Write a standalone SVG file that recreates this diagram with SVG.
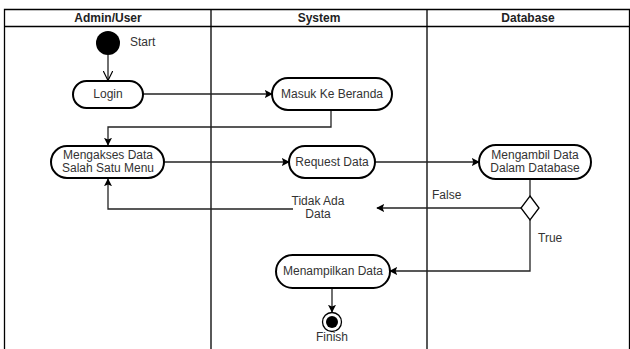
<svg xmlns="http://www.w3.org/2000/svg" width="630" height="349" viewBox="0 0 630 349">
  <defs>
    <style>
      .lane { fill: none; stroke: #000; stroke-width: 1.3; }
      .head { font-family: "Liberation Sans", Arial, sans-serif; font-size: 12px; font-weight: bold; fill: #222; text-anchor: middle; }
      .act { fill: #fff; stroke: #000; stroke-width: 2; }
      .lbl { font-family: "Liberation Sans", Arial, sans-serif; font-size: 12px; fill: #333; text-anchor: middle; }
      .note { font-family: "Liberation Sans", Arial, sans-serif; font-size: 12px; fill: #333; }
      .edge { fill: none; stroke: #222; stroke-width: 1.3; }
    </style>
    <marker id="arrow" viewBox="0 0 10 10" refX="9" refY="5" markerWidth="8" markerHeight="8" markerUnits="userSpaceOnUse" orient="auto">
      <path d="M0,0 L10,5 L0,10 L2,5 Z" fill="#000"/>
    </marker>
    <marker id="open" viewBox="0 0 10 10" refX="9.5" refY="5" markerWidth="10" markerHeight="10" markerUnits="userSpaceOnUse" orient="auto">
      <path d="M0,0 L10,5 L0,10" fill="none" stroke="#000" stroke-width="1.2"/>
    </marker>
  </defs>
  <rect width="630" height="349" fill="#fff"/>

  <!-- swimlanes -->
  <g id="lanes">
    <path class="lane" d="M4.5,349 V9.5 H629.5 V349 M4.5,26.5 H629.5 M211,9.5 V349 M427,9.5 V349"/>
    <text class="head" x="108" y="22">Admin/User</text>
    <text class="head" x="319" y="22">System</text>
    <text class="head" x="528" y="22">Database</text>
  </g>

  <!-- connectors -->
  <g id="connectors">
    <path class="edge" d="M108,55 V80" marker-end="url(#open)"/>
    <path class="edge" d="M143,94 H272" marker-end="url(#arrow)"/>
    <path class="edge" d="M331,110 V127 H108 V145" marker-end="url(#arrow)"/>
    <path class="edge" d="M164,162 H289" marker-end="url(#arrow)"/>
    <path class="edge" d="M375,162 H479" marker-end="url(#arrow)"/>
    <path class="edge" d="M530,179 V196"/>
    <path class="edge" d="M521,208 H377" marker-end="url(#arrow)"/>
    <path class="edge" d="M293,209 H108 V179" marker-end="url(#arrow)"/>
    <path class="edge" d="M530,220 V271 H390" marker-end="url(#arrow)"/>
    <path class="edge" d="M332,289 V312" marker-end="url(#arrow)"/>
    <text class="note" x="432" y="199">False</text>
    <text class="note" x="538" y="242">True</text>
    <text class="lbl" x="318" y="205">Tidak Ada</text>
    <text class="lbl" x="318" y="218">Data</text>
  </g>

  <!-- start -->
  <g id="start">
    <circle cx="108" cy="43" r="12" fill="#000"/>
    <text class="note" x="130" y="46">Start</text>
  </g>

  <g id="login">
    <rect class="act" x="73" y="81" width="70" height="27" rx="13.5"/>
    <text class="lbl" x="108" y="98">Login</text>
  </g>

  <g id="masuk-beranda">
    <rect class="act" x="272" y="78" width="120" height="32" rx="16"/>
    <text class="lbl" x="332" y="98">Masuk Ke Beranda</text>
  </g>

  <g id="mengakses-data">
    <rect class="act" x="51" y="146" width="113" height="32" rx="16"/>
    <text class="lbl" x="108" y="159">Mengakses Data</text>
    <text class="lbl" x="108" y="172">Salah Satu Menu</text>
  </g>

  <g id="request-data">
    <rect class="act" x="289" y="146" width="86" height="32" rx="16"/>
    <text class="lbl" x="332" y="166">Request Data</text>
  </g>

  <g id="mengambil-data">
    <rect class="act" x="479" y="145" width="112" height="34" rx="17"/>
    <text class="lbl" x="535" y="159">Mengambil Data</text>
    <text class="lbl" x="535" y="172">Dalam Database</text>
  </g>

  <g id="decision">
    <path d="M530,196 L539,208 L530,220 L521,208 Z" fill="#fff" stroke="#000" stroke-width="1.3"/>
  </g>

  <g id="menampilkan-data">
    <rect class="act" x="276" y="255" width="114" height="33" rx="16.5"/>
    <text class="lbl" x="333" y="275">Menampilkan Data</text>
  </g>

  <g id="finish">
    <circle cx="332" cy="322" r="9.5" fill="#fff" stroke="#000" stroke-width="1.3"/>
    <circle cx="332" cy="322" r="6" fill="#000"/>
    <text class="lbl" x="332" y="341">Finish</text>
  </g>
</svg>
